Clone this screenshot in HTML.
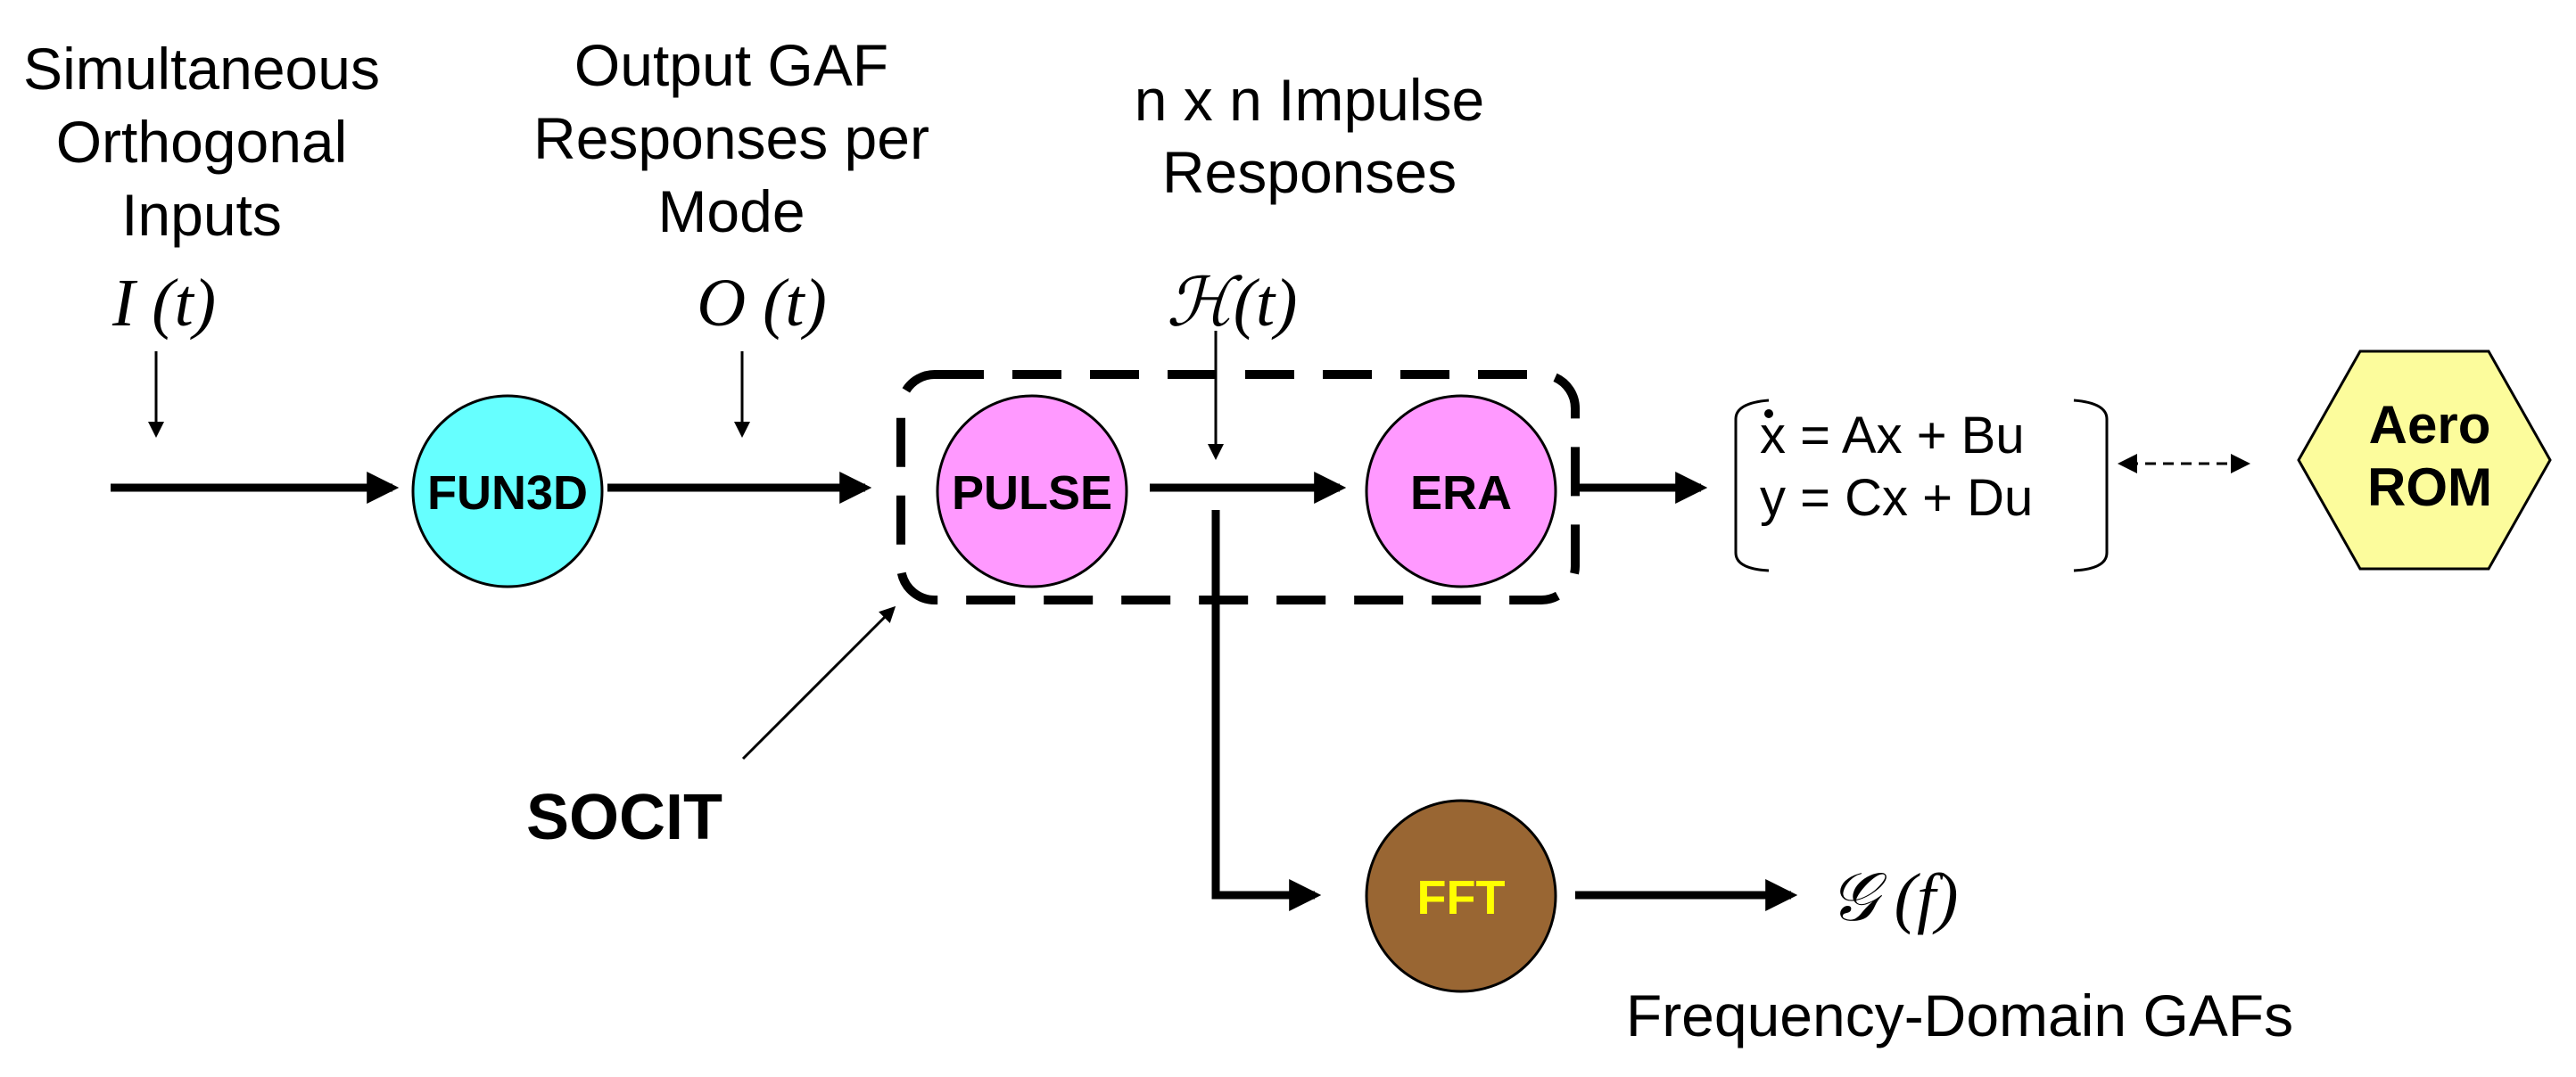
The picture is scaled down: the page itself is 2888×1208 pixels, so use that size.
<!DOCTYPE html>
<html><head><meta charset="utf-8"><style>
html,body{margin:0;padding:0;background:#fff;}
svg{display:block;}
text{font-family:"Liberation Sans",Arial,sans-serif;}
.ser{font-family:"Liberation Serif","DejaVu Serif",serif;font-style:italic;}
</style></head><body>
<svg width="2888" height="1208" viewBox="0 0 2888 1208" xmlns="http://www.w3.org/2000/svg">
<defs>
<marker id="ah" markerWidth="4" markerHeight="4" refX="3.2" refY="2" orient="auto" markerUnits="strokeWidth"><path d="M0,0 L4,2 L0,4 z" fill="#000"/></marker>
<marker id="as" markerWidth="6" markerHeight="6" refX="5" refY="3" orient="auto" markerUnits="strokeWidth"><path d="M0,0 L6,3 L0,6 z" fill="#000"/></marker>
</defs>
<g font-size="66" text-anchor="middle" fill="#000">
<text x="226" y="100">Simultaneous</text>
<text x="226" y="182">Orthogonal</text>
<text x="226" y="264">Inputs</text>
<text x="820" y="96">Output GAF</text>
<text x="820" y="178">Responses per</text>
<text x="820" y="260">Mode</text>
<text x="1468" y="135">n x n Impulse</text>
<text x="1468" y="216">Responses</text>
</g>
<g class="ser" font-size="76" text-anchor="middle">
<text x="184" y="365" class="ser">I (t)</text>
<text x="854" y="365" class="ser">O (t)</text>
<text x="1381" y="365" class="ser" font-family="DejaVu Serif">ℋ(t)</text>
<text x="2123" y="1032" class="ser">𝒢 (f)</text>
</g>
<!-- small arrows -->
<g stroke="#000" stroke-width="3" fill="none">
<line x1="175" y1="394" x2="175" y2="488" marker-end="url(#as)"/>
<line x1="832" y1="394" x2="832" y2="488" marker-end="url(#as)"/>
<line x1="1363" y1="371" x2="1363" y2="513" marker-end="url(#as)"/>
<line x1="833" y1="851" x2="1002" y2="682" marker-end="url(#as)"/>
</g>
<!-- main lines -->
<g stroke="#000" stroke-width="9" fill="none">
<line x1="124" y1="547" x2="440" y2="547" marker-end="url(#ah)"/>
<line x1="681" y1="547" x2="970" y2="547" marker-end="url(#ah)"/>
<line x1="1289" y1="547" x2="1502" y2="547" marker-end="url(#ah)"/>
<line x1="1771" y1="547" x2="1907" y2="547" marker-end="url(#ah)"/>
<polyline points="1363,572 1363,1004 1474,1004" marker-end="url(#ah)"/>
<line x1="1766" y1="1004" x2="2008" y2="1004" marker-end="url(#ah)"/>
</g>
<!-- dashed box -->
<rect x="1010" y="420" width="756" height="253" rx="38" ry="38" fill="none" stroke="#000" stroke-width="10" stroke-dasharray="55 32"/>
<!-- nodes -->
<g stroke="#000" stroke-width="3">
<ellipse cx="569" cy="551" rx="106" ry="107" fill="#66ffff"/>
<ellipse cx="1157" cy="551" rx="106" ry="107" fill="#ff99ff"/>
<ellipse cx="1638" cy="551" rx="106" ry="107" fill="#ff99ff"/>
<ellipse cx="1638" cy="1005" rx="106" ry="107" fill="#996633"/>
<polygon points="2646,394 2790,394 2859,516 2790,638 2646,638 2577,516" fill="#fcfc9c"/>
</g>
<g font-weight="bold" text-anchor="middle" font-size="54">
<text x="569" y="571">FUN3D</text>
<text x="1157" y="571">PULSE</text>
<text x="1638" y="571">ERA</text>
<text x="1638" y="1025" fill="#ffff00">FFT</text>
<text x="2724" y="497" font-size="60">Aero</text>
<text x="2724" y="567" font-size="60">ROM</text>
<text x="700" y="941" font-size="72">SOCIT</text>
</g>
<!-- state space -->
<g stroke="#000" stroke-width="3" fill="none">
<path d="M1983,449 Q1946,452 1946,470 L1946,620 Q1946,638 1983,640"/>
<path d="M2325,449 Q2362,452 2362,470 L2362,620 Q2362,638 2325,640"/>
<line x1="2385" y1="520" x2="2512" y2="520" stroke-dasharray="12 8"/>
</g>
<path d="M2374,520 L2396,509 L2396,531 z M2523,520 L2501,509 L2501,531 z" fill="#000"/>
<circle cx="1983" cy="464" r="5" fill="#000"/>
<g font-size="58">
<text x="1973" y="508">x = Ax + Bu</text>
<text x="1973" y="578">y = Cx + Du</text>
</g>
<text x="2197" y="1162" font-size="66" text-anchor="middle">Frequency-Domain GAFs</text>
</svg>
</body></html>
